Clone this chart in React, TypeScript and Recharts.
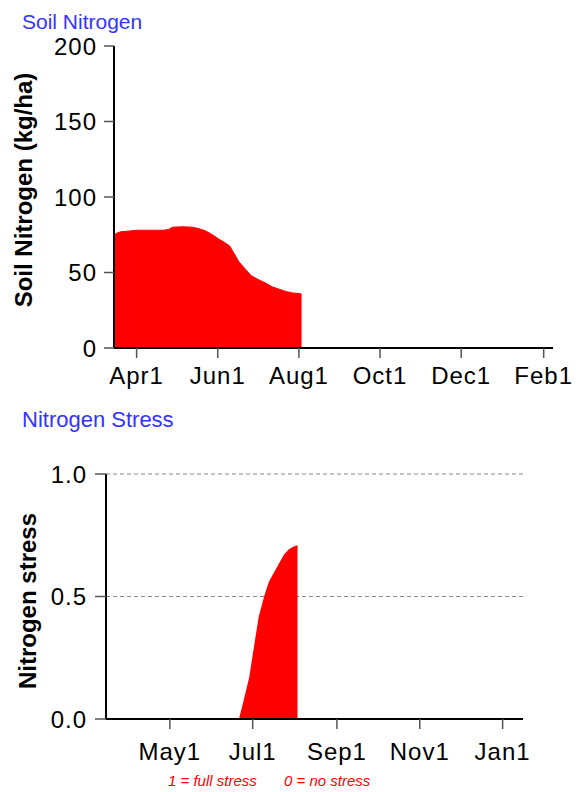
import { Area, AreaChart, CartesianGrid, XAxis, YAxis } from 'recharts'

const FONT = '"Liberation Sans", Arial, sans-serif'
const RED = '#ff0000'
const BLUE = '#3333ff'

// day of year (Jan1 = 0)
const soilDays = [73, 75, 78, 85, 90, 100, 110, 114, 117, 125, 132, 137, 142, 147, 152, 156, 160, 163, 167, 171, 176, 181, 187, 192, 197, 202, 207, 213, 214]
const soilN = [74.8, 76, 77, 77.5, 78, 78, 78, 78.5, 80, 80.3, 80, 79, 77.5, 75, 72, 70, 67.5, 63, 57, 53, 48, 45.5, 43, 40.5, 39, 37.5, 36.5, 36, 35.5]
const soilTickDays = [90, 151, 212, 273, 334, 396]
const soilTickLabels = ['Apr1', 'Jun1', 'Aug1', 'Oct1', 'Dec1', 'Feb1']
const soilYTicks = [0, 50, 100, 150, 200]

const stressDays = [73, 120, 171.5, 175, 179, 182.5, 186, 190, 193.5, 198.5, 204.5, 208, 211, 214]
const stressVals = [0, 0, 0, 0.078, 0.17, 0.295, 0.418, 0.5, 0.56, 0.61, 0.67, 0.69, 0.7, 0.706]
const stressTickDays = [120, 181, 243, 304, 365]
const stressTickLabels = ['May1', 'Jul1', 'Sep1', 'Nov1', 'Jan1']
const stressYTicks = [0, 0.5, 1]

const soilData = soilDays.map((d, i) => ({ day: d, n: soilN[i] }))
const stressData = stressDays.map((d, i) => ({ day: d, s: stressVals[i] }))

const tickStyle = { fill: '#000', fontSize: 24, fontFamily: FONT, letterSpacing: 1 }
const axisLine = { stroke: '#000', strokeWidth: 2 }
const tickLine = { stroke: '#555', strokeWidth: 1.5 }

function label(ticks: number[], labels: string[]) {
  return (v: number) => labels[ticks.indexOf(v)] ?? ''
}

export default function App() {
  return (
    <div style={{ position: 'absolute', left: 0, top: 0, width: 576, height: 792, background: '#fff' }}>
      <div style={{ position: 'absolute', left: 0, top: 0 }}>
        <AreaChart width={576} height={400} data={soilData} margin={{ top: 46, right: 23, left: 0, bottom: 12 }}>
          <XAxis
            dataKey="day"
            type="number"
            domain={[73, 403]}
            ticks={soilTickDays}
            interval={0}
            tickFormatter={label(soilTickDays, soilTickLabels)}
            tick={tickStyle}
            axisLine={axisLine}
            tickLine={tickLine}
            tickSize={10}
            tickMargin={9}
            height={40}
          />
          <YAxis
            type="number"
            domain={[0, 200]}
            ticks={soilYTicks}
            interval={0}
            tick={tickStyle}
            axisLine={axisLine}
            tickLine={tickLine}
            tickSize={10}
            tickMargin={7}
            width={114}
          />
          <Area
            type="linear"
            dataKey="n"
            fill={RED}
            fillOpacity={1}
            stroke={RED}
            strokeWidth={1}
            isAnimationActive={false}
          />
        </AreaChart>
      </div>
      <div style={{ position: 'absolute', left: 0, top: 400 }}>
        <AreaChart width={576} height={392} data={stressData} margin={{ top: 74, right: 53, left: 0, bottom: 33 }}>
          <CartesianGrid vertical={false} stroke="#888" strokeDasharray="4 3" />
          <XAxis
            dataKey="day"
            type="number"
            domain={[73, 380]}
            ticks={stressTickDays}
            interval={0}
            tickFormatter={label(stressTickDays, stressTickLabels)}
            tick={tickStyle}
            axisLine={axisLine}
            tickLine={tickLine}
            tickSize={10}
            tickMargin={14}
            height={40}
          />
          <YAxis
            type="number"
            domain={[0, 1]}
            ticks={stressYTicks}
            interval={0}
            tickFormatter={(v: number) => v.toFixed(1)}
            tick={tickStyle}
            axisLine={axisLine}
            tickLine={tickLine}
            tickSize={11}
            tickMargin={8}
            width={106}
          />
          <Area
            type="linear"
            dataKey="s"
            fill={RED}
            fillOpacity={1}
            stroke={RED}
            strokeWidth={1.5}
            isAnimationActive={false}
          />
        </AreaChart>
      </div>
      <svg width={576} height={792} style={{ position: 'absolute', left: 0, top: 0, pointerEvents: 'none' }}>
        <text x={22} y={29} fontSize={21} fontFamily={FONT} fill={BLUE}>Soil Nitrogen</text>
        <text x={22} y={427} fontSize={22} fontFamily={FONT} fill={BLUE}>Nitrogen Stress</text>
        <text x={32} y={190} transform="rotate(-90 32 190)" textAnchor="middle" fontSize={24} fontWeight="bold" fontFamily={FONT} fill="#000">
          Soil Nitrogen (kg/ha)
        </text>
        <text x={36} y={601} transform="rotate(-90 36 601)" textAnchor="middle" fontSize={24} fontWeight="bold" fontFamily={FONT} fill="#000">
          Nitrogen stress
        </text>
        <text x={168} y={786} fontSize={15} fontStyle="italic" fontFamily={FONT} fill={RED}>1 = full stress</text>
        <text x={284} y={786} fontSize={15} fontStyle="italic" fontFamily={FONT} fill={RED}>0 = no stress</text>
      </svg>
    </div>
  )
}
